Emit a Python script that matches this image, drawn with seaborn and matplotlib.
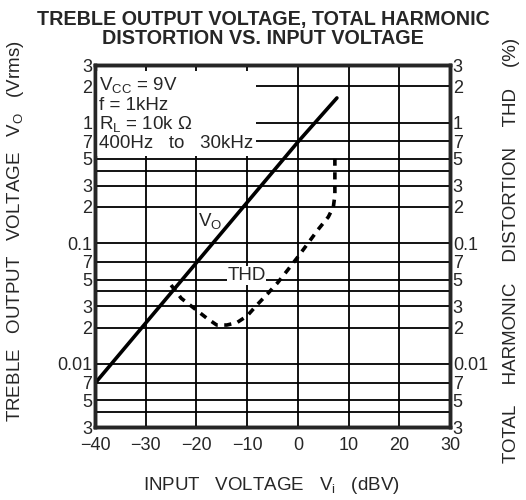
import matplotlib
matplotlib.use("Agg")
import matplotlib.pyplot as plt
import seaborn as sns
import pandas as pd

# leitura do grafico (dBV de entrada x Vrms / %)
vin_vo = [-40, -20, 0, 7.7]
vo_vrms = [0.0069, 0.069, 0.69, 1.6]

vin_thd = [-25, -23, -20.5, -18, -16, -14, -12, -10, -8, -6, -4, -2, 0, 2, 4, 6, 7, 7.3, 7.3]
thd_pct = [0.045, 0.035, 0.029, 0.024, 0.021, 0.021, 0.022, 0.025, 0.031, 0.038,
           0.047, 0.06, 0.077, 0.1, 0.13, 0.165, 0.2, 0.25, 0.5]

x_ticks = [-40, -30, -20, -10, 0, 10, 20, 30]
x_labels = ["\u221240", "\u221230", "\u221220", "\u221210", "0", "10", "20", "30"]
y_ticks = [0.003, 0.004, 0.005, 0.007, 0.01, 0.02, 0.03, 0.04, 0.05, 0.07,
           0.1, 0.2, 0.3, 0.4, 0.5, 0.7, 1, 2, 3]
y_labels = ["3", "", "5", "7", "0.01", "2", "3", "", "5", "7",
            "0.1", "2", "3", "", "5", "7", "1", "2", "3"]

sns.set_style("white")
plt.rcParams['font.family'] = ['Liberation Sans', 'DejaVu Sans']
plt.rcParams['mathtext.fontset'] = 'custom'
plt.rcParams['mathtext.rm'] = 'Liberation Sans'

df_vo = pd.DataFrame({'vin': vin_vo, 'vo': vo_vrms})
df_thd = pd.DataFrame({'vin': vin_thd, 'thd': thd_pct})

fig = plt.figure(figsize=(5.26, 5.0), dpi=100)
ax = fig.add_axes([95 / 526, 1 - 427 / 500, 355 / 526, 362 / 500])
ax.set_xlim(-40, 30)
ax.set_yscale('log')
ax.set_ylim(0.003, 3)
ax.set_xticks(x_ticks)
ax.set_xticklabels(x_labels, fontsize=13)
ax.set_yticks(y_ticks)
ax.set_yticklabels(y_labels, fontsize=13)
ax.minorticks_off()
ax.tick_params(axis='y', length=0, pad=2)
ax.tick_params(axis='x', length=0, pad=7)
ax.grid(True, color='black', linewidth=1.3)
for s in ax.spines.values():
    s.set_linewidth(2.5)
    s.set_color('black')

ax2 = ax.twinx()
ax2.set_yscale('log')
ax2.set_ylim(0.003, 3)
ax2.set_yticks(y_ticks)
ax2.set_yticklabels(y_labels, fontsize=13)
ax2.minorticks_off()
ax2.tick_params(length=0, pad=2)
for s in ax2.spines.values():
    s.set_linewidth(2.5)

sns.lineplot(data=df_vo, x='vin', y='vo', ax=ax, color='black', linewidth=2.6,
             estimator=None, sort=False, zorder=5)
sns.lineplot(data=df_thd, x='vin', y='thd', ax=ax2, color='black', linewidth=2.6,
             estimator=None, sort=False, linestyle=(0, (2.0, 1.8)), zorder=5)
ax.set_xlabel('')
ax.set_ylabel('')
ax2.set_ylabel('')

ax.text(-39.3, 2.45,
        "V$_\\mathregular{CC}$ = 9V\nf = 1kHz\nR$_\\mathregular{L}$ = 10k \u03a9\n400Hz   to   30kHz",
        fontsize=13.5, va='top', ha='left', linespacing=1.05, zorder=4,
        bbox=dict(facecolor='white', edgecolor='none', pad=2.5))
ax.text(-19.6, 0.15, "V$_\\mathregular{O}$", fontsize=13.5, ha='left', va='center',
        zorder=4, bbox=dict(facecolor='white', edgecolor='none', pad=0.5))
ax.text(-13.9, 0.054, "THD", fontsize=13.5, ha='left', va='center',
        zorder=4, bbox=dict(facecolor='white', edgecolor='none', pad=0.5))

fig.text(0.5, 1 - 29 / 500, "TREBLE OUTPUT VOLTAGE, TOTAL HARMONIC\nDISTORTION VS. INPUT VOLTAGE",
         ha='center', va='center', fontsize=14.2, fontweight='heavy', linespacing=1.0)
fig.text(271 / 526, 1 - 486 / 500, "INPUT   VOLTAGE   V$_\\mathregular{i}$   (dBV)",
         ha='center', va='center', fontsize=13.5)
fig.text(16 / 526, 1 - 231 / 500, "TREBLE   OUTPUT   VOLTAGE   V$_\\mathregular{O}$   (Vrms)",
         ha='center', va='center', rotation=90, fontsize=13.5)
fig.text(511 / 526, 1 - 250 / 500, "TOTAL    HARMONIC    DISTORTION    THD    (%)",
         ha='center', va='center', rotation=90, fontsize=13.5)

fig.savefig('out.png', dpi=100, facecolor='white')
